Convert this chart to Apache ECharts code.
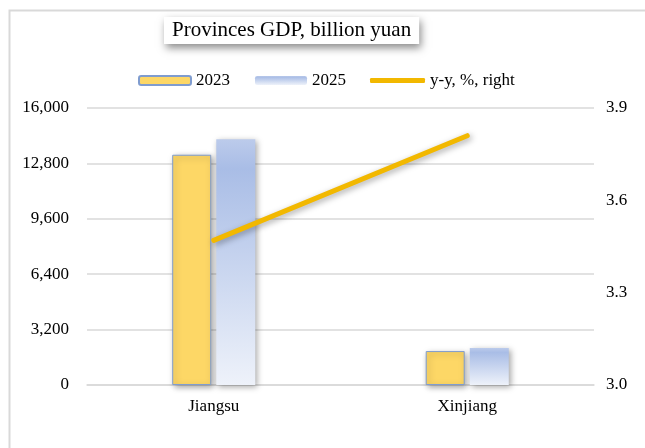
<!DOCTYPE html>
<html><head><meta charset="utf-8">
<script src="https://cdn.jsdelivr.net/npm/echarts@6/dist/echarts.min.js"></script>
<style>html,body{margin:0;padding:0;background:#fff}#c{width:645px;height:448px}</style>
</head><body><div id="c"></div>
<script>
const categories = ['Jiangsu', 'Xinjiang'];
const gdp2023 = [13300, 1960];
const gdp2025 = [14200, 2140];
const yoy = [3.47, 3.81];
const leftTicks = [0, 3200, 6400, 9600, 12800, 16000];
const rightTicks = [3.0, 3.3, 3.6, 3.9];

const font = 'Liberation Serif';
const chart = echarts.init(document.getElementById('c'), null, {renderer: 'canvas'});
const grad2025 = new echarts.graphic.LinearGradient(0, 0, 0, 1, [
  {offset: 0, color: '#bccbeb'},
  {offset: 0.12, color: '#a9bde6'},
  {offset: 1, color: '#eef2fa'}
]);
chart.setOption({
  animation: false,
  textStyle: {fontFamily: font, color: '#000'},
  graphic: [{
    type: 'rect', left: 7, top: 8, z: -1,
    shape: {x: 0, y: 0, width: 700, height: 500},
    style: {fill: 'none', stroke: '#d9d9d9', lineWidth: 2}
  }],
  title: {
    text: 'Provinces GDP, billion yuan',
    left: 164, top: 17,
    padding: [3, 8, 3, 8],
    backgroundColor: '#fff',
    shadowBlur: 8, shadowColor: 'rgba(0,0,0,0.45)', shadowOffsetX: 2, shadowOffsetY: 4,
    textStyle: {fontFamily: font, fontSize: 21, fontWeight: 'normal', color: '#000'}
  },
  legend: [{
    data: ['2023', '2025'],
    left: 133, top: 67,
    itemWidth: 52, itemHeight: 9, itemGap: 25,
    textStyle: {fontFamily: font, fontSize: 17, color: '#000'}
  }, {
    data: [{name: 'y-y, %, right', icon: 'roundRect'}],
    left: 365, top: 67,
    itemWidth: 55, itemHeight: 5,
    textStyle: {fontFamily: font, fontSize: 17, color: '#000'}
  }],
  grid: {left: 87, right: 51, top: 108, bottom: 63},
  xAxis: {
    type: 'category', data: categories,
    axisLine: {lineStyle: {color: '#d9d9d9', width: 1.5}},
    axisTick: {show: false},
    axisLabel: {fontFamily: font, fontSize: 17, color: '#000', margin: 13}
  },
  yAxis: [{
    type: 'value', min: leftTicks[0], max: leftTicks[leftTicks.length - 1], interval: 3200,
    axisLine: {show: false}, axisTick: {show: false},
    splitLine: {lineStyle: {color: '#d9d9d9', width: 1.5}},
    axisLabel: {fontFamily: font, fontSize: 17, color: '#000', margin: 18,
      formatter: v => v.toLocaleString('en-US')}
  }, {
    type: 'value', min: rightTicks[0], max: rightTicks[rightTicks.length - 1], interval: 0.3,
    axisLine: {show: false}, axisTick: {show: false}, splitLine: {show: false},
    axisLabel: {fontFamily: font, fontSize: 17, color: '#000', margin: 12,
      formatter: v => v.toFixed(1)}
  }],
  series: [{
    name: '2023', type: 'bar', data: gdp2023,
    barWidth: 39, barGap: '13%',
    itemStyle: {color: '#fdd766', borderColor: '#7f9ccf', borderWidth: 1,
      shadowBlur: 6, shadowColor: 'rgba(0,0,0,0.35)', shadowOffsetX: 2, shadowOffsetY: 2}
  }, {
    name: '2025', type: 'bar', data: gdp2025,
    barWidth: 39,
    itemStyle: {color: grad2025,
      shadowBlur: 6, shadowColor: 'rgba(0,0,0,0.35)', shadowOffsetX: 2, shadowOffsetY: 2}
  }, {
    name: 'y-y, %, right', type: 'line', yAxisIndex: 1, data: yoy,
    showSymbol: false, symbol: 'none',
    lineStyle: {color: '#f2b800', width: 5, cap: 'round',
      shadowBlur: 6, shadowColor: 'rgba(0,0,0,0.35)', shadowOffsetX: 2, shadowOffsetY: 2},
    itemStyle: {color: '#f2b800'}
  }]
});
</script>
</body></html>
